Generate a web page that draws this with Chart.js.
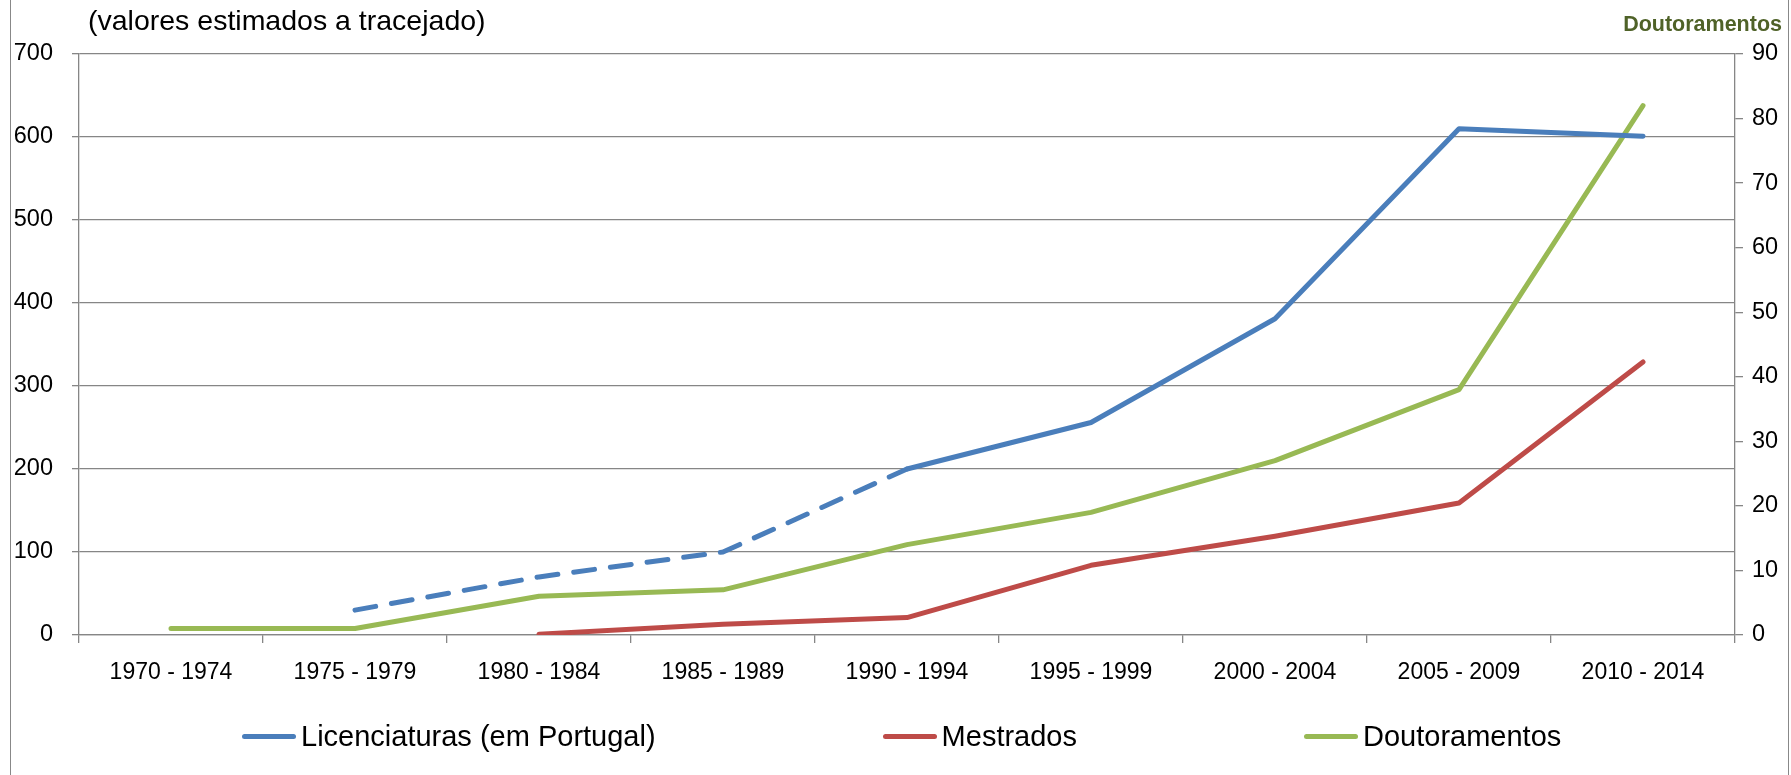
<!DOCTYPE html>
<html>
<head>
<meta charset="utf-8">
<script src="https://cdn.jsdelivr.net/npm/chart.js@4"></script>
<style>
    html, body { margin: 0; padding: 0; background: #fff; }
    body { width: 1791px; height: 775px; position: relative; overflow: hidden; font-family: "Liberation Sans", Arial, sans-serif; }
    #frame { position: absolute; left: 10px; top: -2px; width: 1777px; height: 779px; border-left: 1px solid #888; border-right: 1px solid #888; }
    #chart { position: absolute; left: 0; top: 0; }
    #note { position: absolute; left: 88px; top: 6px; font-size: 28.5px; line-height: 1; color: #000; white-space: nowrap; }
    #rightTitle { position: absolute; right: 9px; top: 14px; font-size: 21.5px; font-weight: bold; line-height: 1; color: #4F6228; white-space: nowrap; }
    #legend { position: absolute; left: 242px; top: 720px; display: flex; gap: 227px; align-items: center; font-size: 29px; line-height: 32px; white-space: nowrap; }
    .item { display: flex; align-items: center; }
    .swatch { width: 54px; height: 5px; border-radius: 3px; margin-right: 5px; }
</style>
</head>
<body>
<div id="frame"></div>
<canvas id="chart" width="1791" height="775"></canvas>
<div id="note">(valores estimados a tracejado)</div>
<div id="rightTitle">Doutoramentos</div>
<div id="legend"></div>
<script>
// Data
const categories = ['1970 - 1974', '1975 - 1979', '1980 - 1984', '1985 - 1989', '1990 - 1994',
    '1995 - 1999', '2000 - 2004', '2005 - 2009', '2010 - 2014'];
const licenciaturas = [null, 30, 70, 100, 200, 256, 381, 610, 601];
const mestrados = [null, null, 1, 13, 21, 84, 119, 159, 329];
const doutoramentos = [1, 1, 6, 7, 14, 19, 27, 38, 82];
const lastEstimated = 4; // licenciaturas up to 1990 - 1994 are estimates (dashed)

const seriesNames = ['Licenciaturas (em Portugal)', 'Mestrados', 'Doutoramentos'];
const seriesColors = ['#4A7EBB', '#BE4B48', '#98B954'];

const leftMax = 700, leftStep = 100;
const rightMax = 90, rightStep = 10;

const gridColor = '#868686';
Chart.defaults.font.family = '"Liberation Sans", Arial, sans-serif';
Chart.defaults.font.size = 23;
Chart.defaults.color = '#000';

function lineSet(label, data, color, axis) {
    return {
        label: label,
        data: data,
        yAxisID: axis,
        borderColor: color,
        backgroundColor: color,
        borderWidth: 5,
        borderCapStyle: 'round',
        borderJoinStyle: 'round',
        pointRadius: 0,
        pointHoverRadius: 0,
        tension: 0,
        fill: false
    };
}

const lic = lineSet(seriesNames[0], licenciaturas, seriesColors[0], 'y');
lic.segment = {
    borderDash: ctx => ctx.p1DataIndex <= lastEstimated ? [21, 16] : undefined
};

new Chart(document.getElementById('chart').getContext('2d'), {
    type: 'line',
    data: {
        labels: categories,
        datasets: [
            lic,
            lineSet(seriesNames[1], mestrados, seriesColors[1], 'y'),
            lineSet(seriesNames[2], doutoramentos, seriesColors[2], 'y1')
        ]
    },
    options: {
        responsive: false,
        animation: false,
        devicePixelRatio: 1,
        layout: { padding: { top: 54, left: 0, right: 0, bottom: 0 } },
        plugins: { legend: { display: false }, tooltip: { enabled: false } },
        scales: {
            x: {
                offset: true,
                grid: { offset: true, drawOnChartArea: false, color: gridColor, lineWidth: 1.3, tickLength: 8 },
                border: { color: gridColor, width: 1.3 },
                ticks: { padding: 16, maxRotation: 0, autoSkip: false },
                afterFit: s => { s.height = 140; }
            },
            y: {
                position: 'left',
                min: 0, max: leftMax,
                grid: { color: gridColor, lineWidth: 1.3, tickLength: 7 },
                border: { color: gridColor, width: 1.3 },
                ticks: { stepSize: leftStep, padding: 19, font: { size: 23.5 } },
                afterFit: s => { s.width = 79; }
            },
            y1: {
                position: 'right',
                min: 0, max: rightMax,
                grid: { drawOnChartArea: false, color: gridColor, lineWidth: 1.3, tickLength: 8 },
                border: { color: gridColor, width: 1.3 },
                ticks: { stepSize: rightStep, padding: 9, font: { size: 23.5 } },
                afterFit: s => { s.width = 56; }
            }
        }
    }
});

// Legend in the Excel style: line swatch + label, evenly spread
const legend = document.getElementById('legend');
seriesNames.forEach((name, i) => {
    const item = document.createElement('div');
    item.className = 'item';
    item.innerHTML = `<span class="swatch" style="background:${seriesColors[i]}"></span><span>${name}</span>`;
    legend.appendChild(item);
});
</script>
</body>
</html>
